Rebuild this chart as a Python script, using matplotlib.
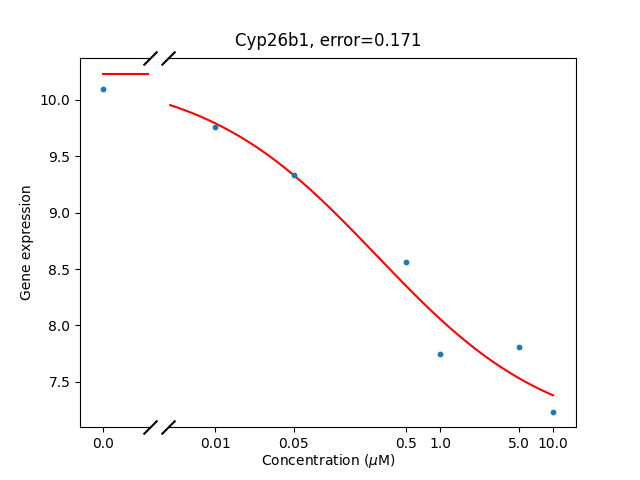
import numpy as np
import matplotlib
matplotlib.use("Agg")
import matplotlib.pyplot as plt

conc = [0.0, 0.01, 0.05, 0.5, 1.0, 5.0, 10.0]
expr = [10.1, 9.76, 9.33, 8.56, 7.75, 7.81, 7.23]
tick_labels = ["0.01", "0.05", "0.5", "1.0", "5.0", "10.0"]

# fitted Hill curve parameters
top, bottom, ec50, hill = 10.23, 7.0, 0.275, 0.56

def model(x):
    return bottom + (top - bottom) / (1 + (x / ec50) ** hill)

fig = plt.figure(figsize=(6.4, 4.8), dpi=100)
ax1 = fig.add_axes([0.125, 0.11, 0.109, 0.77])
ax2 = fig.add_axes([0.2625, 0.11, 0.6375, 0.77], sharey=ax1)

ax1.plot([0.0, 0.97], [top, top], color="red")
ax1.scatter(conc[:1], expr[:1], s=10, zorder=3)
ax1.set_xlim(-0.5, 1.0)
ax1.set_xticks([0.0])
ax1.set_xticklabels(["0.0"])
ax1.set_ylim(7.098, 10.375)
ax1.set_ylabel("Gene expression")
ax1.spines["right"].set_visible(False)

xs = np.logspace(np.log10(0.004), 1, 200)
ax2.plot(xs, model(xs), color="red")
ax2.scatter(conc[1:], expr[1:], s=10, zorder=3)
ax2.set_xscale("log")
ax2.set_xlim(0.00382, 16)
ax2.set_xticks(conc[1:])
ax2.set_xticklabels(tick_labels)
ax2.minorticks_off()
ax2.spines["left"].set_visible(False)
ax2.tick_params(axis="y", left=False, labelleft=False)

kw = dict(marker=[(-1, -1), (1, 1)], markersize=10, linestyle="none",
          color="k", mec="k", mew=1.5, clip_on=False)
ax1.plot([1, 1], [0, 1], transform=ax1.transAxes, **kw)
ax2.plot([0, 0], [0, 1], transform=ax2.transAxes, **kw)

fig.text(0.5125, 0.895, "Cyp26b1, error=0.171", ha="center", va="bottom", fontsize=12)
fig.text(0.5125, 0.02, "Concentration ($\\mu$M)", ha="center", va="bottom", fontsize=10)

fig.savefig("out.png")
